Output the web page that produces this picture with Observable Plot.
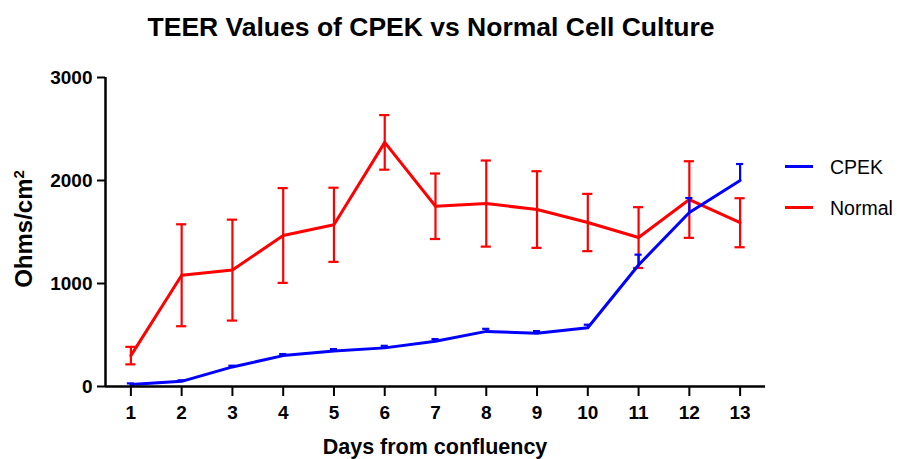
<!DOCTYPE html>
<html><head><meta charset="utf-8">
<script src="https://cdn.jsdelivr.net/npm/d3@7"></script>
<script src="https://cdn.jsdelivr.net/npm/@observablehq/plot@0.6"></script>
<style>
body{margin:0;background:#fff;font-family:"Liberation Sans",Arial,sans-serif;}
#wrap{position:relative;width:902px;height:459px;overflow:hidden;background:#fff}
.t{position:absolute;white-space:nowrap;color:#000}
#title{left:0;width:862px;top:14px;text-align:center;font-weight:bold;font-size:26.5px;line-height:26px}
#xt{left:0;width:870px;top:437px;text-align:center;font-weight:bold;font-size:21.5px;line-height:21px}
#yt{left:-76px;width:200px;top:217px;text-align:center;font-weight:bold;font-size:24px;line-height:24px;transform:rotate(-90deg)}
#yt sup{font-size:15px;line-height:0;vertical-align:0.55em}
#chart{position:absolute;left:0;top:60px}
.lg{position:absolute;left:785px;width:28px;height:3px}
.lt{left:830px;font-size:19.5px;line-height:20px}
</style></head>
<body><div id="wrap">
<div id="chart"></div>
<div id="title" class="t">TEER Values of CPEK vs Normal Cell Culture</div>
<div id="yt" class="t">Ohms/cm<sup>2</sup></div>
<div id="xt" class="t">Days from confluency</div>
<div class="lg" style="top:165px;background:#0000ff"></div>
<div class="t lt" style="top:157px">CPEK</div>
<div class="lg" style="top:206px;background:#ff0000"></div>
<div class="t lt" style="top:198px">Normal</div>
</div>
<script>
const days = [1,2,3,4,5,6,7,8,9,10,11,12,13];
const cpek = [20, 50, 190, 300, 345, 375, 440, 535, 518, 570, 1180, 1690, 2000];
const cpekErr = [10, 10, 12, 15, 18, 20, 20, 25, 20, 30, 100, 140, 160];
const normal = [300, 1080, 1130, 1466, 1570, 2370, 1750, 1776, 1718, 1592, 1446, 1815, 1590];
const normalErr = [85, 495, 490, 460, 360, 265, 318, 418, 372, 278, 295, 372, 238];
const yTicks = [0, 1000, 2000, 3000];

const RED = "#ff0000", BLUE = "#0000ff";
const nData = days.map((d, i) => ({day: d, v: normal[i], e: normalErr[i]}));
const cData = days.map((d, i) => ({day: d, v: cpek[i], e: cpekErr[i]}));

const chart = Plot.plot({
  width: 902, height: 399,
  marginLeft: 105, marginRight: 137, marginTop: 17, marginBottom: 73,
  style: {fontFamily: '"Liberation Sans", Arial, sans-serif', fontWeight: "bold", background: "transparent", color: "#000"},
  x: {domain: [0.5, 13.5]},
  y: {domain: [0, 3000]},
  marks: [
    Plot.axisY({ticks: yTicks, tickSize: 8, tickPadding: 5, fontSize: 19, strokeWidth: 2, tickFormat: d3.format("d"), label: null}),
    Plot.axisX({ticks: days, tickSize: 10, tickPadding: 9, fontSize: 19, strokeWidth: 2, tickFormat: d => String(d), label: null}),
    // Normal error bars
    Plot.ruleX(nData, {x: "day", y1: d => d.v - d.e, y2: d => d.v + d.e, stroke: RED, strokeWidth: 2.2}),
    Plot.ruleY(nData, {y: d => d.v + d.e, x1: d => d.day - 0.1, x2: d => d.day + 0.1, stroke: RED, strokeWidth: 2.2}),
    Plot.ruleY(nData, {y: d => d.v - d.e, x1: d => d.day - 0.1, x2: d => d.day + 0.1, stroke: RED, strokeWidth: 2.2}),
    Plot.line(nData, {x: "day", y: "v", stroke: RED, strokeWidth: 3}),
    // CPEK error bars (upper)
    Plot.ruleX(cData, {x: "day", y1: "v", y2: d => d.v + d.e, stroke: BLUE, strokeWidth: 2.2}),
    Plot.ruleY(cData, {y: d => d.v + d.e, x1: d => d.day - 0.07, x2: d => d.day + 0.07, stroke: BLUE, strokeWidth: 2.2}),
    Plot.line(cData, {x: "day", y: "v", stroke: BLUE, strokeWidth: 3}),
    // axis lines
    Plot.ruleX([0.5], {y1: 0, y2: 3000, stroke: "#000", strokeWidth: 2.5}),
    Plot.ruleY([0], {stroke: "#000", strokeWidth: 2.5})
  ]
});
document.getElementById("chart").appendChild(chart);
</script>
</body></html>
